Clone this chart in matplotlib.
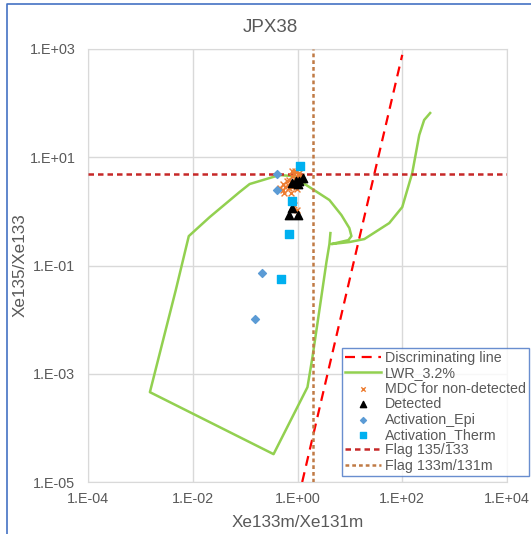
import numpy as np
import matplotlib
matplotlib.use('Agg')
import matplotlib.pyplot as plt
from matplotlib.lines import Line2D

plt.rcParams['font.family'] = ['Liberation Sans', 'DejaVu Sans']

# LWR_3.2% trajectory
lwr_x = [4.25, 4.07, 3.57, 2.62, 1.93, 1.55, 0.349, 1.52e-3, 4.74e-3, 8.4e-3,
         0.0211, 0.0785, 0.122, 0.454, 0.80, 1.69, 4.07, 6.89, 9.77, 10.7,
         9.36, 4.45, 9.77, 18.9, 56.5, 100, 155, 211, 262, 341]
lwr_y = [0.397, 0.249, 0.116, 0.015, 2.03e-3, 5.65e-4, 3.27e-5, 4.57e-4, 0.0351, 0.349,
         0.785, 2.28, 3.2, 4.69, 4.49, 2.81, 1.62, 0.855, 0.491, 0.349,
         0.294, 0.249, 0.271, 0.308, 0.608, 1.2, 5.1, 25.7, 48.8, 65.6]

# discriminating line end points
disc_x = [1.23, 100]
disc_y = [1e-5, 780]

# MDC for non-detected
mdc_x = [0.52, 0.59, 0.65, 0.56, 0.70, 0.77, 0.84, 0.92, 1.0, 1.09, 0.68, 0.62,
         0.88, 1.19, 0.54, 0.74, 0.80, 0.96, 1.04, 0.47, 0.84, 0.96, 0.90, 0.78]
mdc_y = [2.5, 2.8, 3.1, 2.2, 3.8, 4.5, 4.9, 5.3, 4.7, 5.1, 2.7, 3.6,
         4.1, 4.5, 3.2, 2.2, 2.8, 2.6, 4.1, 2.7, 1.3, 1.06, 5.6, 5.5]

# detected
det_x = [0.77, 0.916, 1.04, 1.30, 0.80, 0.70, 1.04, 1.09]
det_y = [3.33, 3.63, 3.2, 4.13, 1.15, 0.855, 0.855, 3.63]

# activation
epi_x = [0.40, 0.40, 0.206, 0.152]
epi_y = [4.9, 2.5, 0.072, 0.0102]
therm_x = [1.14, 0.77, 0.70, 0.475]
therm_y = [6.9, 1.55, 0.38, 0.056]

# flags
flag_135 = 5.0
flag_133m = 1.95

grey = '#595959'

fig = plt.figure(figsize=(5.31, 5.34), dpi=100)
ax = fig.add_axes([88/531, 52/534, 419/531, 433/534])

ax.plot(disc_x, disc_y, color='#FF0000', lw=1.6, dashes=(4.5, 3),
        label='Discriminating line', zorder=3)
ax.plot(lwr_x, lwr_y, color='#92D050', lw=1.8, label='LWR_3.2%', zorder=2)
ax.scatter(mdc_x, mdc_y, marker='x', s=18, color='#ED7D31', lw=1.0,
           label='MDC for non-detected', zorder=4)
ax.scatter(det_x, det_y, marker='^', s=36, color='black',
           label='Detected', zorder=5)
ax.scatter(epi_x, epi_y, marker='D', s=16, color='#5B9BD5',
           label='Activation_Epi', zorder=5)
ax.scatter(therm_x, therm_y, marker='s', s=36, color='#00B0F0',
           label='Activation_Therm', zorder=5)
ax.axhline(flag_135, color='#C62828', lw=1.8, dashes=(2.2, 1.6),
           label='Flag 135/133', zorder=3)
ax.axvline(flag_133m, color='#C07A45', lw=1.8, dashes=(1.5, 1.2),
           label='Flag 133m/131m', zorder=3)

ax.set_xscale('log')
ax.set_yscale('log')
ax.set_xlim(1e-4, 1e4)
ax.set_ylim(1e-5, 1e3)
xt = [1e-4, 1e-2, 1e0, 1e2, 1e4]
yt = [1e-5, 1e-3, 1e-1, 1e1, 1e3]
ax.set_xticks(xt)
ax.set_yticks(yt)
ax.set_xticklabels(['1.E-04', '1.E-02', '1.E+00', '1.E+02', '1.E+04'])
ax.set_yticklabels(['1.E-05', '1.E-03', '1.E-01', '1.E+01', '1.E+03'])
ax.minorticks_off()
ax.tick_params(length=0, labelsize=10.4, labelcolor=grey)
ax.tick_params(axis='y', pad=9)
ax.tick_params(axis='x', pad=7)
ax.grid(True, color='#D9D9D9', lw=1)
ax.set_axisbelow(True)
for s in ax.spines.values():
    s.set_color('#D9D9D9')

ax.set_xlabel('Xe133m/Xe131m', fontsize=12.3, color=grey)
ax.set_ylabel('Xe135/Xe133', fontsize=12.3, color=grey)
ax.xaxis.set_label_coords(0.5, -0.076)
ax.yaxis.set_label_coords(-0.145, 0.5)
fig.text(270/531, 1 - 27/534, 'JPX38', ha='center', va='center',
         fontsize=13.5, color=grey)

leg = ax.legend(loc='upper left', bbox_to_anchor=(342/531, 1 - 348/534),
                bbox_transform=fig.transFigure, fontsize=10.3, frameon=True,
                fancybox=False, borderpad=0.2, labelspacing=0.1,
                handlelength=2.5, handletextpad=0.3, borderaxespad=0,
                markerscale=0.75)
leg.get_frame().set_edgecolor('#4472C4')
leg.get_frame().set_linewidth(1.0)
for t in leg.get_texts():
    t.set_color(grey)

# chart area border (only left and top edges visible)
fig.lines.append(Line2D([7/531, 7/531, 1], [0, 1 - 4/534, 1 - 4/534],
                        transform=fig.transFigure, color='#4472C4', lw=1.2))

fig.savefig('out.png', dpi=100)
